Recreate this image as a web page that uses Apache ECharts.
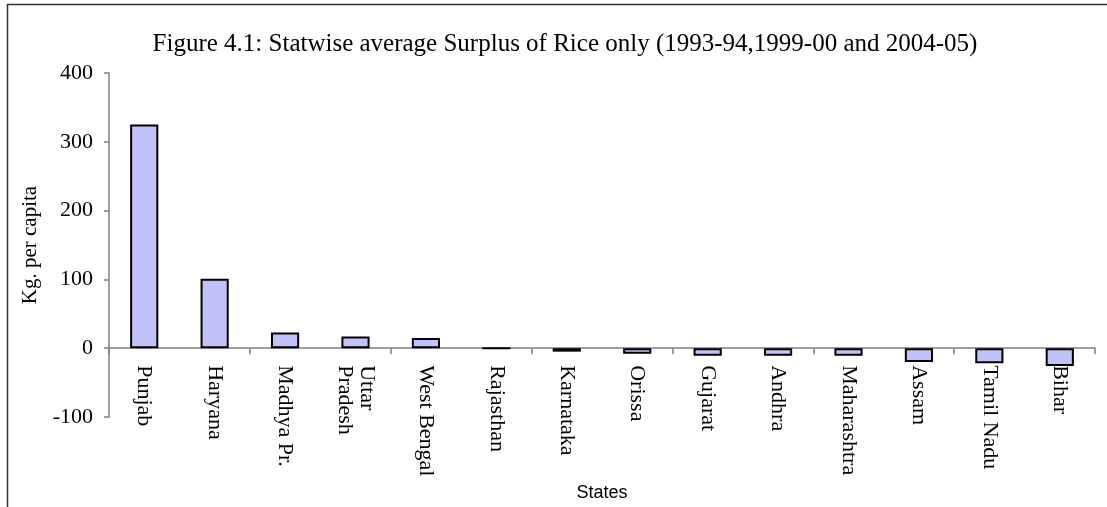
<!DOCTYPE html>
<html>
<head>
<meta charset="utf-8">
<script src="https://cdn.jsdelivr.net/npm/echarts@6/dist/echarts.min.js"></script>
<style>
  html, body { margin: 0; padding: 0; background: #fff; }
  #chart { width: 1107px; height: 507px; }
</style>
</head>
<body>
<div id="chart"></div>
<script>
// States along the x axis (multi-word names broken onto two lines where needed)
const states = ['Punjab', 'Haryana', 'Madhya Pr.', 'Uttar\nPradesh', 'West Bengal', 'Rajasthan',
  'Karnataka', 'Orissa', 'Gujarat', 'Andhra', 'Maharashtra', 'Assam', 'Tamil Nadu', 'Bihar'];

// Average rice surplus, kg per capita
const surplus = [325, 101, 23, 17, 15, 0, -5, -8, -11, -11, -11, -20, -22, -26];

// Value axis range and step
const yMin = -100;
const yMax = 400;
const yStep = 100;

const serif = '"Liberation Serif", "Times New Roman", serif';
const sans = '"Liberation Sans", Arial, sans-serif';

// Plot box
const plotLeft = 109;
const plotRight = 12;
const plotTop = 73;
const plotBottom = 90;
// Distance of the zero line from the canvas bottom; category labels hang from it
const zeroLineBottom = 507 - (plotTop + (507 - plotTop - plotBottom) * (yMax - 0) / (yMax - yMin));

const chart = echarts.init(document.getElementById('chart'), null, { renderer: 'canvas' });

chart.setOption({
  backgroundColor: '#ffffff',
  animation: false,
  title: {
    text: 'Figure 4.1: Statwise average Surplus of Rice only (1993-94,1999-00 and 2004-05)',
    left: 560,
    top: 27,
    textAlign: 'center',
    textStyle: { fontFamily: serif, fontSize: 25, fontWeight: 'normal', color: '#000' }
  },
  // chart frame: only the top and left edges fall inside the canvas
  graphic: [{
    type: 'rect',
    shape: { x: 7.5, y: 4.5, width: 1200, height: 600 },
    style: { fill: 'none', stroke: '#333', lineWidth: 1.5 },
    silent: true,
    z: 100
  }],
  grid: [
    { left: plotLeft, right: plotRight, top: plotTop, bottom: plotBottom, outerBoundsMode: 'none', containLabel: false },
    // label band: same width, ending at the zero line
    { left: plotLeft, right: plotRight, top: plotTop, bottom: zeroLineBottom, outerBoundsMode: 'none', containLabel: false }
  ],
  xAxis: [{
    type: 'category',
    gridIndex: 0,
    data: states,
    boundaryGap: true,
    axisLine: { onZero: true, lineStyle: { color: '#808080', width: 1.5 } },
    axisTick: { show: true, alignWithLabel: false, length: 6, lineStyle: { color: '#808080', width: 1.5 } },
    axisLabel: { show: false },
    splitLine: { show: false }
  }, {
    type: 'category',
    gridIndex: 1,
    data: states,
    boundaryGap: true,
    name: 'States',
    nameLocation: 'middle',
    nameGap: 134,
    nameTextStyle: { fontFamily: sans, fontSize: 18, color: '#000' },
    axisLine: { show: false },
    axisTick: { show: false },
    axisLabel: {
      rotate: -90,
      interval: 0,
      margin: 17,
      fontFamily: serif,
      fontSize: 22,
      color: '#000',
      lineHeight: 22
    },
    splitLine: { show: false }
  }],
  yAxis: [{
    type: 'value',
    gridIndex: 0,
    min: yMin,
    max: yMax,
    interval: yStep,
    name: 'Kg. per capita',
    nameLocation: 'middle',
    nameGap: 68,
    nameTextStyle: { fontFamily: serif, fontSize: 21, color: '#000' },
    axisLine: { show: true, lineStyle: { color: '#808080', width: 1.5 } },
    axisTick: { show: true, length: 5, lineStyle: { color: '#808080', width: 1.5 } },
    axisLabel: { margin: 16, fontFamily: serif, fontSize: 22, color: '#000' },
    splitLine: { show: false }
  }, {
    type: 'value',
    gridIndex: 1,
    show: false
  }],
  series: [{
    type: 'bar',
    xAxisIndex: 0,
    yAxisIndex: 0,
    data: surplus,
    barWidth: '40%',
    itemStyle: {
      color: '#c2c2fa',
      borderColor: '#000',
      borderWidth: 2
    }
  }]
});
</script>
</body>
</html>
